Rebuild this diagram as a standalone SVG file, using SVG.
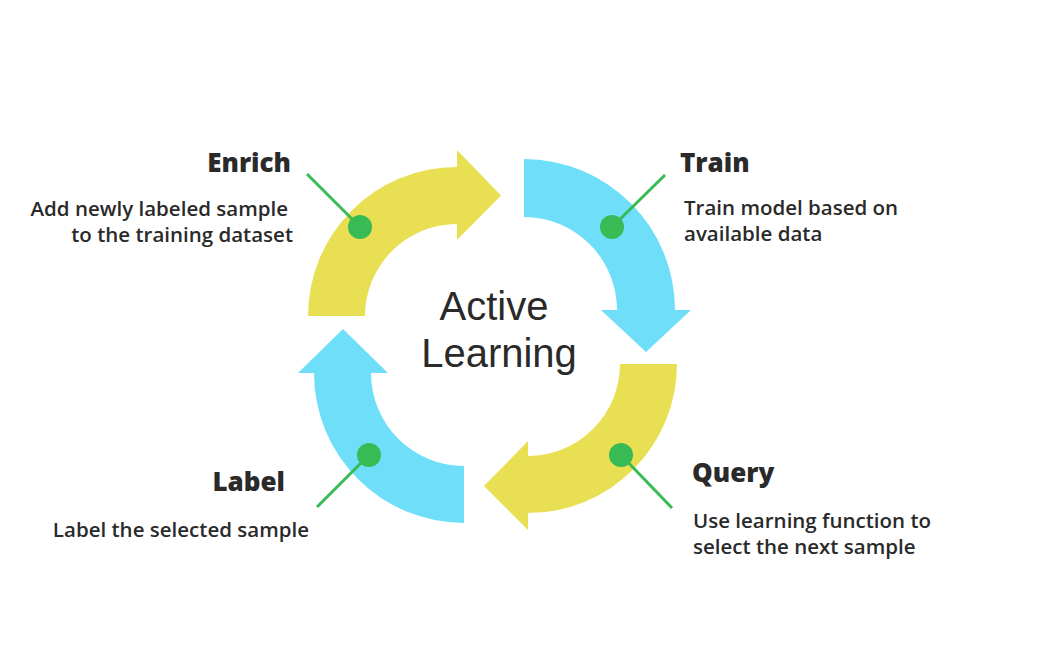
<svg xmlns="http://www.w3.org/2000/svg" width="1050" height="656" viewBox="0 0 1050 656">
<style>
.y{fill:#E8DF52}
.b{fill:#6FDFF9}
.dot{fill:#38BA55}
.ln{stroke:#38BA55;stroke-width:3;fill:none}
.h{font-family:"Open Sans","Noto Sans",sans-serif;font-weight:800;font-size:26px;fill:#2a2a2a}
.t{font-family:"Open Sans","Noto Sans",sans-serif;font-weight:600;font-size:20.5px;fill:#2a2a2a}
.c{font-family:"Liberation Sans","DejaVu Sans",sans-serif;font-size:40px;fill:#2a2a2a;text-anchor:middle}
</style>
<rect width="1050" height="656" fill="#ffffff"/>
<g id="enrich">
<path class="y" d="M 308 316 A 149 149 0 0 1 457 167 L 457 150 L 501 195.5 L 457 240 L 457 224 A 92 92 0 0 0 365 316 Z"/>
<text class="h" x="291" y="172" text-anchor="end">Enrich</text>
<text class="t" x="288" y="216" text-anchor="end">Add newly labeled sample</text>
<text class="t" x="293" y="242" text-anchor="end">to the training dataset</text>
</g>
<g id="train">
<path class="b" d="M 524 159 A 151 151 0 0 1 675 310 L 691 310 L 646 352 L 601 310 L 617 310 A 93 93 0 0 0 524 217 Z"/>
<text class="h" x="680" y="172">Train</text>
<text class="t" x="684" y="215">Train model based on</text>
<text class="t" x="684" y="241">available data</text>
</g>
<g id="query">
<path class="y" d="M 677 364 A 149 149 0 0 1 528 513 L 528 530 L 484 486 L 528 441 L 528 456 A 92 92 0 0 0 620 364 Z"/>
<text class="h" x="692" y="482">Query</text>
<text class="t" x="693" y="528">Use learning function to</text>
<text class="t" x="693" y="554">select the next sample</text>
</g>
<g id="label">
<path class="b" d="M 464 523 A 150 150 0 0 1 314 373 L 298 373 L 343 329 L 388 373 L 371 373 A 93 93 0 0 0 464 466 Z"/>
<text class="h" x="285" y="491" text-anchor="end">Label</text>
<text class="t" x="309" y="537" text-anchor="end">Label the selected sample</text>
</g>
<g id="center">
<text class="c" x="494" y="320">Active</text>
<text class="c" x="499" y="367">Learning</text>
</g>
<g id="connectors">
<line class="ln" x1="307" y1="174" x2="360" y2="227"/>
<circle class="dot" cx="360" cy="227" r="12"/>
<line class="ln" x1="665" y1="175" x2="612" y2="227"/>
<circle class="dot" cx="612" cy="227" r="12"/>
<line class="ln" x1="672" y1="508" x2="621" y2="455"/>
<circle class="dot" cx="621" cy="455" r="12"/>
<line class="ln" x1="317" y1="507" x2="369" y2="455"/>
<circle class="dot" cx="369" cy="455" r="12"/>
</g>
</svg>
